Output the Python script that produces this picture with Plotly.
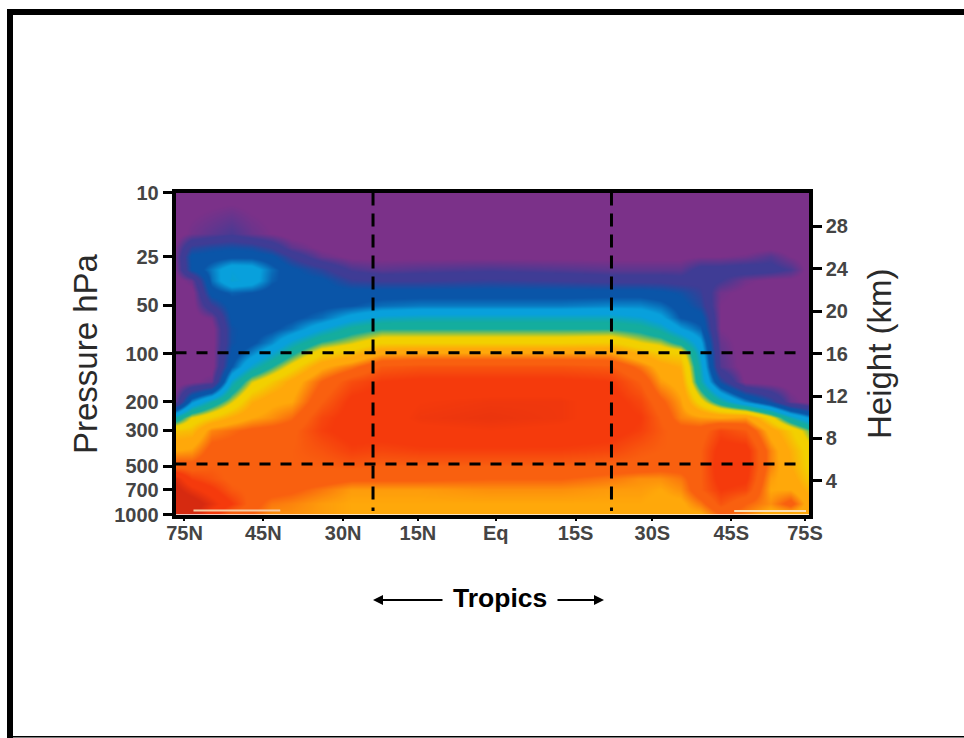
import numpy as np
import plotly.graph_objects as go

# pressure rows (hPa), top to bottom
pressure = [10, 18, 22, 25, 30, 35, 42, 50, 60, 70, 85, 100, 120, 150, 200, 250, 300, 400, 500, 600, 700, 850, 1000]
# horizontal position of each column along the latitude axis (axis units)
lat_pos = [0, 16, 36, 56, 76, 96, 116, 146, 176, 206, 246, 316, 386, 436, 466, 486, 506, 526, 546, 571, 596, 616, 635]

# colour-band level per column, one entry per pressure row
z_columns = [
    [0,0,0.2,0.3,0.2,0,0,0,0,0,0,0,0,0,0.4,3.7,5.4,6.2,7.1,8.6,9.0,9.3,9],
    [0,0.3,1.4,1.9,1.8,0.4,0,0,0,0,0,0,0,0.1,2.6,4.8,5.5,6.3,7.0,7.7,8.4,9.2,9],
    [0,0.5,1.6,2,2.5,2.4,2,1.2,0.3,0,0,0,0,0.4,3.7,5.3,6.5,7.0,7.2,7.4,7.9,8.5,8],
    [0,0.7,1.7,2.1,3.2,3.3,2.3,2,1.9,1.7,1.7,1.9,2.2,3.4,4.7,5.8,6.7,7,7.1,7.1,7.3,7.8,7],
    [0,0.4,1.6,2.1,3.1,3.1,2.2,2,2,2,2.1,2.6,3.4,4.7,5.7,6.2,6.9,7.1,7.1,7.1,7.1,7,6.8],
    [0,0.2,1.2,1.9,2.4,2.3,2,2,2,2.1,2.6,3.3,4.2,5.3,6.1,6.4,7,7.1,7.2,7.1,7,6.6,6.4],
    [0,0,0.5,1.2,1.9,2,2,2,2.1,2.4,3.4,4.1,5,5.9,6.2,6.7,7.1,7.2,7.2,7.1,6.9,6.5,6.4],
    [0,0,0.1,0.4,1.4,1.9,2,2.1,2.4,3.2,4.3,5.2,6.1,6.8,7.2,7.6,7.7,7.4,7.2,7.1,6.6,6.3,6.3],
    [0,0,0,0.1,0.7,1.3,2,2.2,3,3.9,4.7,5.5,6.6,7.5,7.9,8,8,7.7,7.3,6.9,6.3,6.2,6.2],
    [0,0,0,0.1,0.5,1.2,2,2.4,3.4,4.2,5.2,6.2,7.3,7.8,8,8,8,7.6,7.2,6.9,6.3,6.2,6.2],
    [0,0,0,0.1,0.6,1.2,2,2.5,3.5,4.2,5.2,6.3,7.4,7.9,8.2,8.3,8.1,7.7,7.2,6.9,6.3,6.2,6.2],
    [0,0,0,0.1,0.7,1.3,2,2.5,3.5,4.2,5.2,6.3,7.4,7.9,8.3,8.4,8.2,7.7,7.2,6.8,6.4,6.2,6.2],
    [0,0,0,0.1,0.6,1.2,2,2.5,3.5,4.2,5.2,6.3,7.4,7.9,8.3,8.3,8.1,7.7,7.2,6.8,6.4,6.2,6.2],
    [0,0,0,0.1,0.5,1.1,2,2.6,3.5,4.2,5.3,6.3,7.3,7.8,8,8,8,7.6,7.1,6.6,6.3,6.2,6.2],
    [0,0,0,0.1,0.5,1.1,2,2.6,3.3,4,4.8,5.7,6.6,7.2,7.6,7.8,7.7,7.3,7.1,6.4,6.3,6.2,6.2],
    [0,0,0,0.1,0.5,1.1,1.9,2.4,2.9,3.6,4.6,5.3,6,6.3,6.9,7.2,7.3,7.2,7,6.4,6.2,6.1,6.1],
    [0,0,0,0.1,0.5,1,1.7,2,2.2,2.8,4,5.2,5.7,6,6.3,6.5,7,7.2,7,6.6,6.4,6.1,6.1],
    [0,0,0,0.2,1,1.1,1.3,1.5,2,2.3,2.9,3.2,3.5,3.7,5,6.3,7,7.2,7.2,7.2,7.2,6.6,6.1],
    [0,0,0,0.2,1,0.8,0.3,0.2,0.2,0.2,0.4,0.5,0.6,1.6,3.8,6.2,7.6,8,8.1,8,7.8,7.4,6.8],
    [0,0,0,0.3,1.1,0.3,0.1,0,0,0,0,0,0,0.1,2.6,6.3,7.3,8,8,7.9,7.6,6.8,6.5],
    [0,0,0.1,0.6,1,0.1,0,0,0,0,0,0,0,0,1.6,5,6,6.5,6.5,6.3,6.2,6.4,6],
    [0,0,0,0.2,0.7,0.1,0,0,0,0,0,0,0,0,0.4,3.6,5.3,5.7,5.8,6,6.2,7,6],
    [0,0,0,0,0,0,0,0,0,0,0,0,0,0,0,2.7,4.4,5,5.1,5.3,5.6,5.9,5.8],
]

level_colors = ["#7B3189", "#3F3C95", "#0A55A8", "#08A0DC", "#14AD9E", "#F2D000",
                "#FFA80A", "#F9600F", "#F53A0C", "#D62A10"]

lat_tick_pos = [9, 88, 168, 243, 321, 401, 478, 557, 631]
lat_tick_labels = ["75N", "45N", "30N", "15N", "Eq", "15S", "30S", "45S", "75S"]
p_ticks = [10, 25, 50, 100, 200, 300, 500, 700, 1000]
height_ticks = [4, 8, 12, 16, 20, 24, 28]
p_dashed = [99, 485]
lat_dashed = [198, 437]
streak_left = [18, 105]
streak_right = [560, 632]
streak_p = [945, 950]

W, H = 964, 738
OX, OY = 0, 0
def fx(px):
    return (px - OX) / W
def fy(py):
    return 1 - (py - OY) / H
PX0, PX1, PY0, PY1 = 175.5, 809, 192.5, 514.5
zmax = len(level_colors) - 1
scale = []
for i, c in enumerate(level_colors):
    lo = max(0, i - 0.2) / zmax
    hi = min(zmax, i + 0.2) / zmax
    scale += [[lo, c], [hi, c]]

z = np.array(z_columns).T
font = "Liberation Sans, Arial, sans-serif"
fig = go.Figure()
fig.add_trace(go.Heatmap(x=lat_pos, y=pressure, z=z, zmin=0, zmax=zmax, zsmooth="best",
                         colorscale=scale, showscale=False, hoverinfo="skip"))
fig.add_trace(go.Scatter(x=streak_left, y=[streak_p[0]] * 2, mode="lines", line=dict(color="#F6C9A2", width=2), hoverinfo="skip"))
fig.add_trace(go.Scatter(x=streak_right, y=[streak_p[1]] * 2, mode="lines", line=dict(color="#FBDDB0", width=2), hoverinfo="skip"))
for p in p_dashed:
    fig.add_trace(go.Scatter(x=[0, 630], y=[p, p], mode="lines", hoverinfo="skip",
                             line=dict(color="black", width=3, dash="11px,10px")))
for x in lat_dashed:
    fig.add_trace(go.Scatter(x=[x, x], y=[10, 950], mode="lines", hoverinfo="skip",
                             line=dict(color="black", width=3, dash="13px,8px")))
fig.add_trace(go.Scatter(x=[0] * len(height_ticks), y=height_ticks, yaxis="y2", mode="lines",
                         opacity=0, hoverinfo="skip"))

tick = dict(color="#444444", family=font, size=20, weight="bold")
fig.update_layout(
    width=W, height=H, margin=dict(l=0, r=0, t=0, b=0, pad=0, autoexpand=False), showlegend=False,
    paper_bgcolor="white", plot_bgcolor="white",
    xaxis=dict(domain=[fx(PX0), fx(PX1)], range=[0, 635], tickvals=lat_tick_pos, ticktext=lat_tick_labels,
               ticks="outside", ticklen=3, tickwidth=2, tickcolor="black", tickfont=tick, automargin=False,
               ticklabelstandoff=-5,
               showline=True, linewidth=3.5, linecolor="black", mirror=True, showgrid=False, zeroline=False),
    yaxis=dict(domain=[fy(PY1), fy(PY0)], type="log", range=[3, 1], tickmode="array", tickvals=p_ticks,
               ticktext=[str(v) for v in p_ticks], ticks="outside", ticklen=9, tickwidth=3, tickcolor="black",
               tickfont=tick, automargin=False, showline=True, linewidth=3.5, linecolor="black", showgrid=False, zeroline=False),
    yaxis2=dict(overlaying="y", side="right", anchor="x", range=[0.82, 31.2], tickmode="array", tickvals=height_ticks,
                ticktext=[str(v) for v in height_ticks], ticks="outside", ticklen=9, tickwidth=3, tickcolor="black",
                tickfont=tick, automargin=False, showline=True, linewidth=3.5, linecolor="black", showgrid=False, zeroline=False),
    shapes=[
        dict(type="rect", xref="paper", yref="paper", x0=fx(7), x1=fx(13), y0=0, y1=fy(9), fillcolor="black", line_width=0),
        dict(type="rect", xref="paper", yref="paper", x0=fx(7), x1=1, y0=fy(15), y1=fy(9), fillcolor="black", line_width=0),
        dict(type="rect", xref="paper", yref="paper", x0=fx(7), x1=1, y0=fy(737.5), y1=fy(736), fillcolor="black", line_width=0),
    ],
    annotations=[
        dict(text="Pressure hPa", xref="paper", yref="paper", x=fx(85), y=fy(354), textangle=-90, showarrow=False,
             font=dict(family=font, size=33, color="#2A2A2A"), xanchor="center", yanchor="middle"),
        dict(text="Height (km)", xref="paper", yref="paper", x=fx(879), y=fy(354), textangle=-90, showarrow=False,
             font=dict(family=font, size=33, color="#2A2A2A"), xanchor="center", yanchor="middle"),
        dict(text="Tropics", xref="paper", yref="paper", x=fx(499.5), y=fy(598), showarrow=False,
             font=dict(family=font, size=26.5, color="black", weight="bold"), xanchor="center", yanchor="middle"),
        dict(text="", xref="paper", yref="paper", x=fx(373), y=fy(600), ax=71, ay=0,
             showarrow=True, arrowhead=2, arrowsize=1, arrowwidth=2, arrowcolor="black"),
        dict(text="", xref="paper", yref="paper", x=fx(604), y=fy(600), ax=-48, ay=0,
             showarrow=True, arrowhead=2, arrowsize=1, arrowwidth=2, arrowcolor="black"),
    ],
)
fig.write_html("out.html", config={"displayModeBar": False},
               post_script="document.body.style.margin='0';document.documentElement.style.overflow='hidden';")
